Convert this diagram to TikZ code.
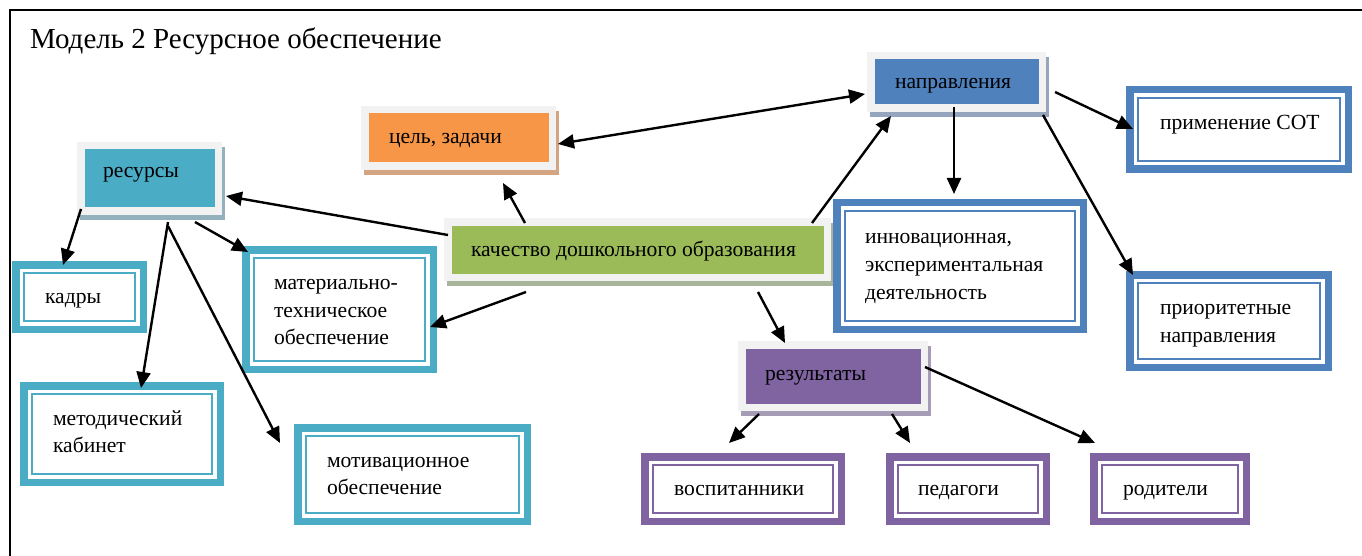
\documentclass[tikz,border=0pt]{standalone}
\usepackage{fontspec}
\setmainfont{Liberation Serif}
\usetikzlibrary{fit,arrows.meta}
\definecolor{cteal}{HTML}{4BACC6}
\definecolor{cblue}{HTML}{4F81BD}
\definecolor{cpurple}{HTML}{8064A2}
\definecolor{cgreen}{HTML}{9BBB59}
\definecolor{corange}{HTML}{F79646}
\definecolor{frameg}{HTML}{F2F2F2}
\definecolor{shteal}{HTML}{93B1BB}
\definecolor{shorange}{HTML}{D3A583}
\definecolor{shgreen}{HTML}{A9B59A}
\definecolor{shblue}{HTML}{95A5BD}
\definecolor{shpurple}{HTML}{A79CB5}
\newcommand\gbox[7]{%
  \fill[#7] (#2+3,#3+5) rectangle (#4+3,#5+5);
  \node[fit={(#2,#3) (#4,#5)}, inner sep=0pt, outer sep=0pt, fill=frameg] (#1) {};
  \fill[#6] ([shift={(7.5,7.5)}]#1.north west) rectangle ([shift={(-7.5,-7.5)}]#1.south east);
}
\newcommand\dbox[6]{%
  \node[fit={(#2,#3) (#4,#5)}, inner sep=0pt, outer sep=0pt, fill=white] (#1) {};
  \draw[#6, line width=7.5pt] ([shift={(3.75,3.75)}]#1.north west) rectangle ([shift={(-3.75,-3.75)}]#1.south east);
  \draw[#6, line width=2.2pt] ([shift={(12,12)}]#1.north west) rectangle ([shift={(-12,-12)}]#1.south east);
}
\begin{document}
\begin{tikzpicture}[x=1pt,y=-1pt,
  txt/.style={anchor=base west, inner sep=0pt, outer sep=0pt, font=\fontsize{21.6}{26}\selectfont},
  ttl/.style={anchor=base west, inner sep=0pt, outer sep=0pt, font=\fontsize{29}{34}\selectfont},
  arr/.style={line width=2.4pt, -{Triangle[length=16pt,width=14pt]}},
  arrb/.style={line width=2.4pt, {Triangle[length=16pt,width=14pt]}-{Triangle[length=16pt,width=14pt]}}]
\useasboundingbox (0,0) rectangle (1362,556);
\fill[white] (0,0) rectangle (1362,556);
\draw[line width=2.5pt, line join=miter] (10,570) -- (10,10) -- (1375,10);
\node[ttl] (title) at (30,48.5) {Модель 2 Ресурсное обеспечение};

% filled boxes
\gbox{res}{77}{142}{222}{215}{cteal}{shteal}
\gbox{goal}{361}{106}{556}{170}{corange}{shorange}
\gbox{qual}{444}{218}{831}{281}{cgreen}{shgreen}
\gbox{dir}{867}{52}{1046}{112}{cblue}{shblue}
\gbox{resu}{738}{341}{928}{411}{cpurple}{shpurple}

% double boxes
\dbox{kadry}{12}{261}{147}{333}{cteal}
\dbox{metod}{20}{382}{224}{486}{cteal}
\dbox{mat}{242}{246}{437}{373}{cteal}
\dbox{motiv}{294}{424}{531}{525}{cteal}
\dbox{innov}{833}{199}{1087}{333}{cblue}
\dbox{app}{1126}{86}{1352}{173}{cblue}
\dbox{prior}{1126}{271}{1332}{371}{cblue}
\dbox{vosp}{641}{453}{845}{525}{cpurple}
\dbox{ped}{886}{453}{1050}{525}{cpurple}
\dbox{rod}{1090}{453}{1250}{525}{cpurple}

% texts
\node[txt] (res-t) at (103,178) {ресурсы};
\node[txt] (goal-t) at (389,144) {цель, задачи};
\node[txt] (qual-t) at (471,256) {качество дошкольного образования};
\node[txt] (dir-t) at (895,89) {направления};
\node[txt] (resu-t) at (765,380) {результаты};
\node[txt] (kadry-t) at (45,303) {кадры};
\node[txt] (metod-t1) at (53,425) {методический};
\node[txt] (metod-t2) at (53,452) {кабинет};
\node[txt] (mat-t1) at (274,289) {материально-};
\node[txt] (mat-t2) at (274,317) {техническое};
\node[txt] (mat-t3) at (274,344) {обеспечение};
\node[txt] (motiv-t1) at (327,467) {мотивационное};
\node[txt] (motiv-t2) at (327,494) {обеспечение};
\node[txt] (innov-t1) at (865,243) {инновационная,};
\node[txt] (innov-t2) at (865,271) {экспериментальная};
\node[txt] (innov-t3) at (865,299) {деятельность};
\node[txt] (app-t) at (1160,130) {применение СОТ};
\node[txt] (prior-t1) at (1160,314) {приоритетные};
\node[txt] (prior-t2) at (1160,342) {направления};
\node[txt] (vosp-t) at (674,495) {воспитанники};
\node[txt] (ped-t) at (918,495) {педагоги};
\node[txt] (rod-t) at (1123,495) {родители};

% connectors
\draw[arr] ([shift={(4,17)}]qual.north west) -- ([shift={(4,54)}]res.north east);
\draw[arr] ([shift={(81,5)}]qual.north west) -- ([shift={(142,13)}]goal.south west);
\draw[arrb] ([shift={(2,38)}]goal.north east) -- ([shift={(-2,42)}]dir.north west);
\draw[arr] ([shift={(-19,5)}]qual.north east) -- ([shift={(24,4)}]dir.south west);
\draw[arr] ([shift={(87,-5)}]dir.south west) -- ([shift={(121,-5)}]innov.north west);
\draw[arr] ([shift={(9,40)}]dir.north east) -- ([shift={(7,43)}]app.north west);
\draw[arr] ([shift={(-3,3)}]dir.south east) -- ([shift={(7,4)}]prior.north west);
\draw[arr] ([shift={(82,11)}]qual.south west) -- ([shift={(-7,81)}]mat.north east);
\draw[arr] ([shift={(314,11)}]qual.south west) -- ([shift={(47,2)}]resu.north west);
\draw[arr] ([shift={(4,-6)}]res.south west) -- ([shift={(51,4)}]kadry.north west);
\draw[arr] ([shift={(118,7)}]res.south west) -- ([shift={(6,6)}]mat.north west);
\draw[arr] ([shift={(91,7)}]res.south west) -- ([shift={(121,6)}]metod.north west);
\draw[arr] ([shift={(91,11)}]res.south west) -- ([shift={(-14,19)}]motiv.north west);
\draw[arr] ([shift={(21,3)}]resu.south west) -- ([shift={(88,-10)}]vosp.north west);
\draw[arr] ([shift={(154,3)}]resu.south west) -- ([shift={(24,-10)}]ped.north west);
\draw[arr] ([shift={(-3,26)}]resu.north east) -- ([shift={(5,-10)}]rod.north west);
\end{tikzpicture}
\end{document}
